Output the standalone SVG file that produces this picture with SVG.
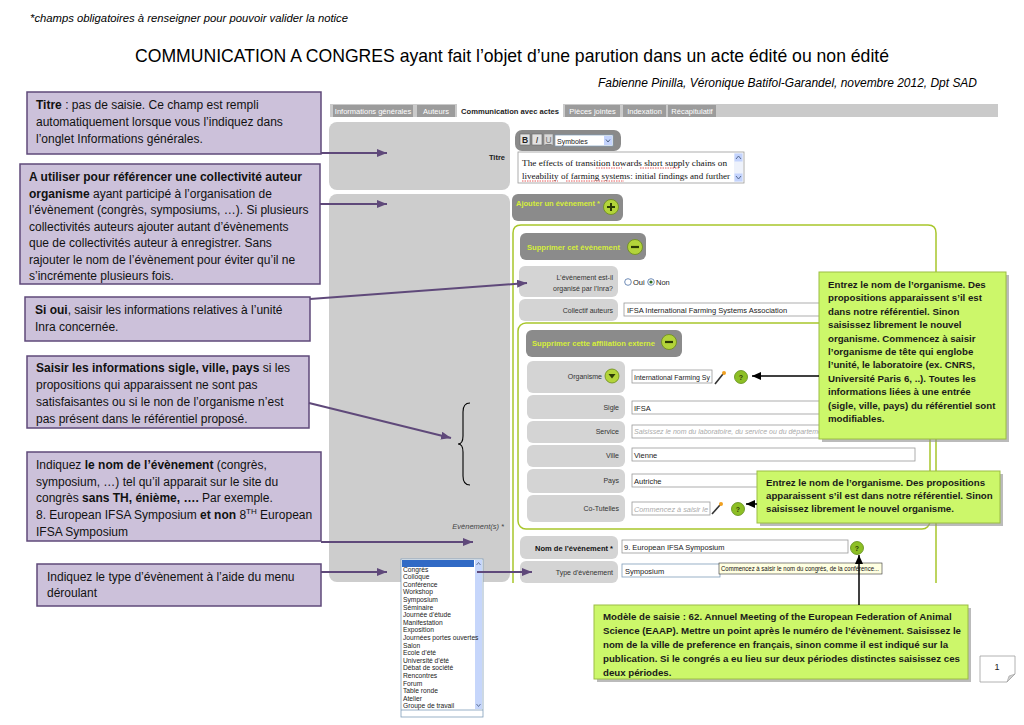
<svg xmlns="http://www.w3.org/2000/svg" width="1024" height="725" viewBox="0 0 1024 725">
<style>
text{font-family:"Liberation Sans",Arial,sans-serif}
text.serif{font-family:"Liberation Serif","Times New Roman",serif}
.note{fill:#ccc1da;stroke:#5f497a;stroke-width:1.5}
.nt{font-size:12px;fill:#111}
.b{font-weight:bold}
.gnote{fill:#ccf76a;stroke:#9cbd45;stroke-width:1}
.gsh{fill:#8d8d8d;opacity:.6}
.gt{font-size:9.7px;font-weight:bold;fill:#1a1a1a}
.panel{fill:#cdcdcd}
.lbl{fill:#d4d4d4}
.btn{fill:#8b8b8b}
.btxt{font-size:7.5px;font-weight:bold;fill:#d6ef3a}
.st{font-size:7px;fill:#333;text-anchor:end}
.inp{fill:#fff;stroke:#9a9a9a;stroke-width:.8}
.it{font-size:7.5px;fill:#222}
.ph{font-size:7px;fill:#aaa;font-style:italic}
.gl{fill:none;stroke:#a8c62b;stroke-width:1.5}
.pa{stroke:#5f497a;stroke-width:2;fill:none;marker-end:url(#pa)}
.ba{stroke:#000;stroke-width:1.5;fill:none;marker-end:url(#ba)}
.tab{fill:#9c9c9c}
.tabt{font-size:7.5px;fill:#fff}
.dd{font-size:6.7px;fill:#222}
.q{fill:#8dbf25;stroke:#5e8c14;stroke-width:.8}
.qt{font-size:7px;font-weight:bold;fill:#2d3d05;text-anchor:middle}
.circ{fill:#b3d43a;stroke:#6b8c1a;stroke-width:.8}
</style>
<defs>
<marker id="pa" markerWidth="10" markerHeight="8" refX="10" refY="4" orient="auto" markerUnits="userSpaceOnUse"><path d="M0,0 L10,4 L0,8 Z" fill="#5f497a"/></marker>
<marker id="ba" markerWidth="9" markerHeight="8" refX="9" refY="4" orient="auto" markerUnits="userSpaceOnUse"><path d="M0,0 L9,4 L0,8 Z" fill="#000"/></marker>
<clipPath id="c2"><rect x="20" y="164" width="300" height="120"/></clipPath>
<clipPath id="c4"><rect x="27" y="356" width="282" height="72"/></clipPath>
</defs>
<rect width="1024" height="725" fill="#fff"/>

<g id="header">
<text x="30" y="22" font-size="11.5" font-style="italic" textLength="318" lengthAdjust="spacingAndGlyphs">*champs obligatoires à renseigner pour pouvoir valider la notice</text>
<text x="135" y="62" font-size="19" textLength="754" lengthAdjust="spacingAndGlyphs">COMMUNICATION A CONGRES ayant fait l’objet d’une parution dans un acte édité ou non édité</text>
<text x="598" y="87" font-size="12" font-style="italic" textLength="379" lengthAdjust="spacingAndGlyphs">Fabienne Pinilla, Véronique Batifol-Garandel, novembre 2012, Dpt SAD</text>
</g>

<g id="screenshot">
<rect x="330" y="104" width="668" height="13" fill="#cacaca"/>
<rect class="tab" x="333" y="105" width="80" height="12"/><text class="tabt" x="373" y="113.5" text-anchor="middle">Informations générales</text>
<rect class="tab" x="417" y="105" width="38" height="12"/><text class="tabt" x="436" y="113.5" text-anchor="middle">Auteurs</text>
<rect x="457" y="104" width="106" height="14" fill="#fff"/><text x="510" y="113.5" font-size="7.5" font-weight="bold" fill="#222" text-anchor="middle" textLength="98" lengthAdjust="spacingAndGlyphs">Communication avec actes</text>
<rect class="tab" x="565" y="105" width="55" height="12"/><text class="tabt" x="592.5" y="113.5" text-anchor="middle">Pièces jointes</text>
<rect class="tab" x="623" y="105" width="43" height="12"/><text class="tabt" x="644.5" y="113.5" text-anchor="middle">Indexation</text>
<rect class="tab" x="668" y="105" width="48" height="12"/><text class="tabt" x="692" y="113.5" text-anchor="middle">Récapitulatif</text>

<rect class="panel" x="329" y="122" width="181" height="68" rx="8"/>
<text x="505" y="160" font-size="7.5" font-weight="bold" fill="#222" text-anchor="end">Titre</text>
<rect class="panel" x="329" y="194" width="181" height="388" rx="8"/>
<text x="504" y="529" font-size="7.5" font-style="italic" fill="#444" text-anchor="end">Evènement(s) *</text>

<rect x="515" y="130" width="106" height="21" rx="7" fill="#8a8a8a"/>
<rect x="520" y="134" width="10" height="11" fill="#e2e2e2" stroke="#666" stroke-width=".6"/><text x="525" y="143" font-size="8.5" font-weight="bold" text-anchor="middle" fill="#222">B</text>
<rect x="532" y="134" width="10" height="11" fill="#e2e2e2" stroke="#666" stroke-width=".6"/><text x="537" y="143" font-size="8.5" font-style="italic" text-anchor="middle" fill="#222">I</text>
<rect x="544" y="134" width="9" height="11" fill="#d8d8d8" stroke="#888" stroke-width=".6"/><text x="548.5" y="143" font-size="8.5" text-anchor="middle" fill="#777" text-decoration="underline">U</text>
<rect x="555" y="135" width="58" height="11" fill="#fff" stroke="#7f9db9" stroke-width=".7"/><text x="557" y="143.5" font-size="7" fill="#222">Symboles</text>
<rect x="604" y="136" width="8" height="9" fill="#c3d3fd"/><path d="M606,139.5 L608,142 L610,139.5" fill="none" stroke="#4d6185" stroke-width="1"/>

<rect x="518" y="152" width="226" height="31" fill="#fff" stroke="#9a9a9a" stroke-width=".8"/>
<text class="serif" x="522" y="166" font-size="9" fill="#111" textLength="205" lengthAdjust="spacingAndGlyphs">The effects of transition towards short supply chains on</text>
<text class="serif" x="522" y="179" font-size="9" fill="#111" textLength="208" lengthAdjust="spacingAndGlyphs">liveability of farming systems: initial findings and further</text>
<path d="M596,168 h26 M640,168 h40 M522,181 h36 M566,181 h58" stroke="#e03030" stroke-width=".8" stroke-dasharray="1.5,1" fill="none"/>
<rect x="734" y="153" width="9" height="29" fill="#eef2fb"/>
<rect x="734.5" y="153.5" width="8" height="8" fill="#c3d3fd"/><path d="M736,159 L738.5,156 L741,159" fill="none" stroke="#4d6185" stroke-width=".9"/>
<rect x="734.5" y="173.5" width="8" height="8" fill="#c3d3fd"/><path d="M736,176 L738.5,179 L741,176" fill="none" stroke="#4d6185" stroke-width=".9"/>

<rect class="btn" x="512" y="194" width="111" height="27" rx="6"/>
<text class="btxt" x="516" y="206" textLength="84" lengthAdjust="spacingAndGlyphs">Ajouter un évènement *</text>
<circle class="circ" cx="611" cy="207" r="7.5"/><path d="M607,207 h8 M611,203 v8" stroke="#2b3a06" stroke-width="2"/>

<path class="gl" d="M513,583 V233 Q513,225 521,225 H928 Q936,225 936,233 V583"/>

<rect class="btn" x="520" y="233" width="126" height="27" rx="6"/>
<text class="btxt" x="527" y="250" textLength="93" lengthAdjust="spacingAndGlyphs">Supprimer cet évènement</text>
<circle class="circ" cx="635" cy="247" r="7.5"/><path d="M631,247 h8" stroke="#2b3a06" stroke-width="2.2"/>

<rect class="lbl" x="519" y="266" width="99" height="31" rx="6"/>
<text class="st" x="613" y="280">L’évènement est-il</text>
<text class="st" x="613" y="291">organisé par l’Inra?</text>
<circle cx="628" cy="282" r="3.3" fill="#fff" stroke="#4a6fa5" stroke-width=".8"/>
<text x="633" y="285" font-size="7.5" fill="#222">Oui</text>
<circle cx="651" cy="282" r="3.3" fill="#fff" stroke="#4a6fa5" stroke-width=".8"/><circle cx="651" cy="282" r="1.6" fill="#2c6a1c"/>
<text x="656" y="285" font-size="7.5" fill="#222">Non</text>

<rect class="lbl" x="519" y="299" width="99" height="22" rx="6"/>
<text class="st" x="613" y="313">Collectif auteurs</text>
<rect class="inp" x="624" y="303" width="205" height="13"/>
<text class="it" x="627" y="312.5">IFSA International Farming Systems Association</text>

<rect class="gl" x="518" y="323" width="412" height="206" rx="8"/>

<rect class="btn" x="526" y="330" width="156" height="27" rx="6"/>
<text class="btxt" x="532" y="346" textLength="123" lengthAdjust="spacingAndGlyphs">Supprimer cette affiliation externe</text>
<circle class="circ" cx="669" cy="342" r="7.5"/><path d="M665,342 h8" stroke="#2b3a06" stroke-width="2.2"/>

<rect class="lbl" x="527" y="361" width="98" height="32" rx="6"/>
<text class="st" x="602" y="379">Organisme</text>
<circle class="circ" cx="612" cy="376" r="7"/><path d="M608.5,374 L615.5,374 L612,378.5 Z" fill="#2b3a06"/>
<rect class="inp" x="632" y="370" width="80" height="13"/>
<text class="it" x="634" y="379.5" textLength="76" lengthAdjust="spacingAndGlyphs">International Farming Sy</text>
<path d="M715,384 L723,374" stroke="#333" stroke-width="1.6"/><circle cx="724" cy="373" r="2" fill="#f0a020"/>
<circle class="q" cx="741" cy="377" r="6.5"/><text class="qt" x="741" y="379.5">?</text>

<rect class="lbl" x="527" y="395" width="98" height="24" rx="6"/>
<text class="st" x="619" y="410">Sigle</text>
<rect class="inp" x="632" y="401" width="200" height="13"/>
<text class="it" x="634" y="410.5">IFSA</text>

<rect class="lbl" x="527" y="421" width="98" height="22" rx="6"/>
<text class="st" x="619" y="434">Service</text>
<rect class="inp" x="632" y="425" width="200" height="13"/>
<text class="ph" x="634" y="434">Saisissez le nom du laboratoire, du service ou du département</text>

<rect class="lbl" x="527" y="445" width="98" height="22" rx="6"/>
<text class="st" x="619" y="458">Ville</text>
<rect class="inp" x="632" y="448" width="283" height="13"/>
<text class="it" x="634" y="457.5">Vienne</text>

<rect class="lbl" x="527" y="469" width="98" height="24" rx="6"/>
<text class="st" x="619" y="483">Pays</text>
<rect class="inp" x="632" y="474" width="150" height="13"/>
<text class="it" x="634" y="483.5">Autriche</text>

<rect class="lbl" x="527" y="495" width="98" height="27" rx="6"/>
<text class="st" x="619" y="511">Co-Tutelles</text>
<rect class="inp" x="632" y="502" width="78" height="13"/>
<text class="ph" x="634" y="511.5" textLength="74" lengthAdjust="spacingAndGlyphs">Commencez à saisir le</text>
<path d="M712,514 L720,505" stroke="#333" stroke-width="1.6"/><circle cx="721" cy="504" r="2" fill="#f0a020"/>
<circle class="q" cx="738" cy="509" r="6.5"/><text class="qt" x="738" y="511.5">?</text>

<rect class="lbl" x="520" y="536" width="98" height="23" rx="6"/>
<text x="613" y="551" font-size="7.5" font-weight="bold" fill="#111" text-anchor="end">Nom de l’évènement *</text>
<rect class="inp" x="622" y="540" width="226" height="13"/>
<text class="it" x="624" y="549.5">9. European IFSA Symposium</text>
<circle class="q" cx="857" cy="548" r="6.5"/><text class="qt" x="857" y="550.5">?</text>

<rect class="lbl" x="520" y="561" width="98" height="22" rx="6"/>
<text class="st" x="613" y="575">Type d’évènement</text>
<rect x="622" y="564" width="98" height="13" fill="#fff" stroke="#7f9db9" stroke-width=".8"/>
<text class="it" x="625" y="573.5">Symposium</text>
<rect x="719" y="563" width="163" height="11" fill="#ffffe1" stroke="#333" stroke-width=".6"/>
<text x="721" y="571" font-size="6.3" fill="#111" textLength="158" lengthAdjust="spacingAndGlyphs">Commencez à saisir le nom du congrès, de la conférence...</text>
</g>

<g id="dropdown">
<rect x="401" y="559" width="82" height="158" fill="#fff" stroke="#7f9db9" stroke-width=".8"/>
<rect x="402" y="560" width="72" height="7" fill="#316ac5"/>
<rect x="475" y="560" width="7" height="149" fill="#c6d6fb"/>
<path d="M476.5,565 L478.5,562.5 L480.5,565" fill="none" stroke="#4d6185" stroke-width=".8"/>
<path d="M476.5,704 L478.5,706.5 L480.5,704" fill="none" stroke="#4d6185" stroke-width=".8"/>
<line x1="401" y1="710" x2="483" y2="710" stroke="#7f9db9" stroke-width=".8"/>
<text class="dd" x="403" y="571.5">Congrès</text>
<text class="dd" x="403" y="579.1">Colloque</text>
<text class="dd" x="403" y="586.7">Conférence</text>
<text class="dd" x="403" y="594.3">Workshop</text>
<text class="dd" x="403" y="601.9">Symposium</text>
<text class="dd" x="403" y="609.5">Séminaire</text>
<text class="dd" x="403" y="617.1">Journée d’étude</text>
<text class="dd" x="403" y="624.7">Manifestation</text>
<text class="dd" x="403" y="632.3">Exposition</text>
<text class="dd" x="403" y="639.9">Journées portes ouvertes</text>
<text class="dd" x="403" y="647.5">Salon</text>
<text class="dd" x="403" y="655.1">Ecole d’été</text>
<text class="dd" x="403" y="662.7">Université d’été</text>
<text class="dd" x="403" y="670.3">Débat de société</text>
<text class="dd" x="403" y="677.9">Rencontres</text>
<text class="dd" x="403" y="685.5">Forum</text>
<text class="dd" x="403" y="693.1">Table ronde</text>
<text class="dd" x="403" y="700.7">Atelier</text>
<text class="dd" x="403" y="708.3">Groupe de travail</text>
</g>

<g id="brace">
<path d="M470,403 Q463,403 463,412 V436 Q463,444 458,444 Q463,444 463,452 V476 Q463,485 470,485" fill="none" stroke="#000" stroke-width="1.1"/>
</g>

<g id="note-titre">
<rect class="note" x="27" y="92" width="294" height="62"/>
<text class="nt" x="36" y="109"><tspan class="b">Titre</tspan> : pas de saisie. Ce champ  est rempli</text>
<text class="nt" x="36" y="126">automatiquement lorsque vous l’indiquez dans</text>
<text class="nt" x="36" y="143">l’onglet Informations générales.</text>
</g>

<g id="note-collectivite">
<rect class="note" x="20" y="164" width="300" height="120"/>
<g clip-path="url(#c2)">
<text class="nt b" x="29" y="181">A utiliser pour référencer une collectivité auteur</text>
<text class="nt" x="29" y="197.5"><tspan class="b">organisme</tspan> ayant participé à l’organisation de</text>
<text class="nt" x="29" y="214">l’évènement (congrès, symposiums, …). Si plusieurs</text>
<text class="nt" x="29" y="230.5">collectivités auteurs ajouter autant d’évènements</text>
<text class="nt" x="29" y="247">que de collectivités auteur à enregistrer.  Sans</text>
<text class="nt" x="29" y="263.5">rajouter le nom de l’évènement pour éviter qu’il ne</text>
<text class="nt" x="29" y="280">s’incrémente plusieurs fois.</text>
</g>
</g>

<g id="note-sioui">
<rect class="note" x="25" y="297" width="285" height="44"/>
<text class="nt" x="35" y="314"><tspan class="b">Si oui</tspan>, saisir les  informations relatives à l’unité</text>
<text class="nt" x="35" y="331">Inra concernée.</text>
</g>

<g id="note-sigle">
<rect class="note" x="27" y="356" width="282" height="72"/>
<g clip-path="url(#c4)">
<text class="nt" x="36" y="372"><tspan class="b">Saisir les  informations sigle, ville, pays</tspan> si les</text>
<text class="nt" x="36" y="389">propositions qui apparaissent ne sont pas</text>
<text class="nt" x="36" y="406">satisfaisantes ou si le non de l’organisme n’est</text>
<text class="nt" x="36" y="422.5">pas présent dans le référentiel proposé.</text>
</g>
</g>

<g id="note-nom">
<rect class="note" x="27" y="452" width="294" height="89"/>
<text class="nt" x="36" y="469">Indiquez <tspan class="b">le nom de l’évènement</tspan> (congrès,</text>
<text class="nt" x="36" y="486">symposium, …) tel qu’il apparait sur le site du</text>
<text class="nt" x="36" y="502">congrès <tspan class="b">sans TH, énième, ….</tspan> Par exemple.</text>
<text class="nt" x="36" y="519">8. European IFSA Symposium <tspan class="b">et non</tspan> 8<tspan font-size="8" dy="-5">TH</tspan><tspan dy="5"> European</tspan></text>
<text class="nt" x="36" y="536">IFSA Symposium</text>
</g>

<g id="note-type">
<rect class="note" x="37" y="564" width="284" height="42"/>
<text class="nt" x="47" y="581">Indiquez le type d’évènement à l’aide du menu</text>
<text class="nt" x="47" y="597">déroulant</text>
</g>

<g id="gnote-organisme">
<rect class="gsh" x="822" y="275" width="187" height="167"/>
<rect class="gnote" x="819" y="272" width="187" height="167"/>
<text class="gt" x="828" y="288">Entrez le nom de l’organisme. Des</text>
<text class="gt" x="828" y="301.4">propositions apparaissent s’il est</text>
<text class="gt" x="828" y="314.8">dans notre référentiel. Sinon</text>
<text class="gt" x="828" y="328.2">saisissez librement le nouvel</text>
<text class="gt" x="828" y="341.6">organisme. Commencez à saisir</text>
<text class="gt" x="828" y="355">l’organisme de tête qui  englobe</text>
<text class="gt" x="828" y="368.4">l’unité, le laboratoire (ex. CNRS,</text>
<text class="gt" x="828" y="381.8">Université Paris 6, ..). Toutes les</text>
<text class="gt" x="828" y="395.2">informations liées à une entrée</text>
<text class="gt" x="828" y="408.6">(sigle, ville, pays) du référentiel sont</text>
<text class="gt" x="828" y="422">modifiables.</text>
</g>

<g id="gnote-cotutelles">
<rect class="gsh" x="760" y="474" width="243" height="52"/>
<rect class="gnote" x="757" y="471" width="243" height="52"/>
<text class="gt" x="766" y="486">Entrez le nom de l’organisme. Des propositions</text>
<text class="gt" x="766" y="499">apparaissent s’il est dans notre référentiel. Sinon</text>
<text class="gt" x="766" y="512">saisissez librement le nouvel organisme.</text>
</g>

<g id="gnote-modele">
<rect class="gsh" x="597" y="608" width="374" height="74"/>
<rect class="gnote" x="594" y="605" width="374" height="74"/>
<text class="gt" x="603" y="620">Modèle de saisie : 62.  Annuel Meeting  of the European Federation of Animal</text>
<text class="gt" x="603" y="634">Science (EAAP). Mettre un point après le numéro de l’évènement. Saisissez le</text>
<text class="gt" x="603" y="648">nom de la ville de preference en français, sinon comme il est indiqué sur la</text>
<text class="gt" x="603" y="662">publication. Si le congrés a eu lieu sur deux périodes distinctes saisissez ces</text>
<text class="gt" x="603" y="676">deux périodes.</text>
</g>

<g id="page-number">
<path d="M980,656 H1015 V674 L1007,682 H980 Z" fill="#fff" stroke="#a0a0a0" stroke-width=".8"/>
<path d="M1007,682 L1009,676 L1015,674 Z" fill="#d0d0d0" stroke="#a0a0a0" stroke-width=".6"/>
<text x="997" y="670" font-size="9" fill="#222" text-anchor="middle">1</text>
</g>

<g id="connectors">
<line class="pa" x1="321" y1="153" x2="387" y2="153"/>
<line class="pa" x1="320" y1="204" x2="387" y2="204"/>
<line class="pa" x1="310" y1="299" x2="527" y2="283"/>
<line class="pa" x1="309" y1="403" x2="451" y2="438"/>
<line class="pa" x1="321" y1="542" x2="473" y2="542"/>
<line class="pa" x1="321" y1="572" x2="387" y2="572"/>
<line class="pa" x1="477" y1="572" x2="532" y2="572"/>
<line class="ba" x1="819" y1="376" x2="752" y2="376"/>
<line class="ba" x1="757" y1="504" x2="746" y2="504"/>
<line class="ba" x1="859" y1="605" x2="859" y2="555"/>
</g>
</svg>
